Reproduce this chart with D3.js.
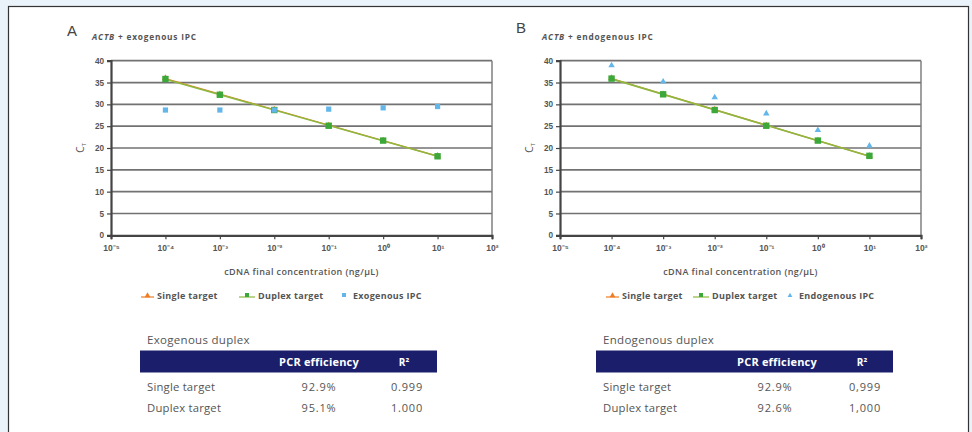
<!DOCTYPE html>
<html><head><meta charset="utf-8">
<script src="https://cdn.jsdelivr.net/npm/d3@7"></script>
<style>
html,body{margin:0;padding:0;background:#eaf3fa;}
svg{display:block;font-family:"Open Sans","Noto Sans",sans-serif;}
</style></head>
<body><svg id="c" width="972" height="432"></svg>
<script>
// ---- data ----
const concentrations = [1e-4, 1e-3, 1e-2, 1e-1, 1, 10];
const xTickValues = [1e-5, 1e-4, 1e-3, 1e-2, 1e-1, 1, 10, 100];
const xTickLabels = ["10⁻⁵", "10⁻⁴", "10⁻³", "10⁻²", "10⁻¹", "10⁰", "10¹", "10²"];
const yTickValues = [0, 5, 10, 15, 20, 25, 30, 35, 40];
const singleTargetCt = [36.0, 32.3, 28.8, 25.1, 21.7, 18.2];
const duplexTargetCtA = [35.8, 32.2, 28.7, 25.1, 21.7, 18.1];
const exogenousIpcCt = [28.7, 28.7, 28.7, 28.9, 29.2, 29.5];
const duplexTargetCtB = [35.9, 32.3, 28.7, 25.1, 21.7, 18.2];
const endogenousIpcCt = [38.9, 35.2, 31.6, 27.9, 24.1, 20.5];
const panelLetters = ["A", "B"];
const panelSubtitles = ["exogenous IPC", "endogenous IPC"];
const legendLabelsA = ["Single target", "Duplex target", "Exogenous IPC"];
const legendLabelsB = ["Single target", "Duplex target", "Endogenous IPC"];
const tableTitles = ["Exogenous duplex", "Endogenous duplex"];
const tableHeaders = ["PCR efficiency", "R²"];
const tableRowNames = ["Single target", "Duplex target"];
const efficiencyA = ["92.9%", "95.1%"];
const r2A = ["0.999", "1.000"];
const efficiencyB = ["92.9%", "92.6%"];
const r2B = ["0,999", "1,000"];

const svg = d3.select("#c");
// frame
svg.append("rect").attr("x", 8.5).attr("y", 6.5).attr("width", 960).attr("height", 440)
  .attr("fill", "#fff").attr("stroke", "#333").attr("stroke-width", 1.2);

const C_ORANGE = "#f07d23", C_GREEN = "#3da83a", C_LINE_GREEN = "#8db840", C_BLUE = "#62b6ea";
const GRID = "#5a5a5a", TXT = "#555";

function fit(xs, ys) {
  const lx = xs.map(Math.log10);
  const mx = d3.mean(lx), my = d3.mean(ys);
  const b = d3.sum(lx, (v, i) => (v - mx) * (ys[i] - my)) / d3.sum(lx, v => (v - mx) ** 2);
  const a = my - b * mx;
  return x => a + b * Math.log10(x);
}

function panel(cfg) {
  const g = svg.append("g");
  const x = d3.scaleLog().domain([1e-5, 100]).range(cfg.xr);
  const y = d3.scaleLinear().domain([0, 40]).range([235.3, 60.7]);

  g.append("text").attr("x", cfg.letterX).attr("y", cfg.letterY).text(cfg.letter)
    .attr("font-size", 15).attr("fill", "#444").attr("font-family", "Liberation Sans, Arial, sans-serif");
  const st = g.append("text").attr("x", cfg.subX).attr("y", 39.5).attr("font-size", 8.3)
    .attr("letter-spacing", 0.8).attr("font-weight", "bold").attr("fill", "#555");
  st.append("tspan").attr("font-style", "italic").text("ACTB");
  st.append("tspan").text(" + " + cfg.subtitle);

  // gridlines
  g.append("g").selectAll("line").data(yTickValues.filter(v => v > 0)).join("line")
    .attr("x1", cfg.xr[0]).attr("x2", cfg.xr[1]).attr("y1", d => y(d)).attr("y2", d => y(d))
    .attr("stroke", GRID).attr("stroke-width", 1.7).attr("opacity", 0.85);
  // right border
  g.append("line").attr("x1", cfg.xr[1]).attr("x2", cfg.xr[1]).attr("y1", y(40)).attr("y2", y(0))
    .attr("stroke", "#777").attr("stroke-width", 1.4);

  const ya = g.append("g").attr("transform", `translate(${cfg.xr[0]},0)`)
    .call(d3.axisLeft(y).tickValues(yTickValues).tickSize(4).tickPadding(3));
  ya.select(".domain").attr("stroke", "#444").attr("stroke-width", 2.2);
  ya.selectAll(".tick line").attr("stroke", "#444").attr("stroke-width", 1.2);
  ya.selectAll("text").attr("font-size", 8.2).attr("font-weight", 600).attr("fill", TXT);

  const xa = g.append("g").attr("transform", `translate(0,${y(0)})`)
    .call(d3.axisBottom(x).tickValues(xTickValues).tickFormat((d, i) => xTickLabels[i]).tickSize(4).tickPadding(6));
  xa.select(".domain").attr("stroke", "#444").attr("stroke-width", 2.2);
  xa.selectAll(".tick line").attr("stroke", "#444").attr("stroke-width", 1.2);
  xa.selectAll("text").attr("font-size", 8.5).attr("font-weight", 600).attr("fill", TXT);

  // axis titles
  const yl = g.append("text").attr("transform", `translate(${cfg.xr[0] - 27},${y(20)}) rotate(-90)`)
    .attr("text-anchor", "middle").attr("font-size", 10).attr("fill", TXT);
  yl.append("tspan").text("C");
  yl.append("tspan").attr("font-size", 6).attr("dy", 2).text("T");
  g.append("text").attr("x", (cfg.xr[0] + cfg.xr[1]) / 2).attr("y", 275).attr("text-anchor", "middle")
    .attr("font-size", 9).attr("font-weight", 600).attr("letter-spacing", 0.4).attr("fill", TXT)
    .text("cDNA final concentration (ng/μL)");

  // trend lines
  const xs = [concentrations[0], concentrations[concentrations.length - 1]];
  const fs = fit(concentrations, singleTargetCt), fd = fit(concentrations, cfg.duplex);
  g.append("path").attr("d", d3.line().x(d => x(d)).y(d => y(fs(d)))(xs))
    .attr("stroke", C_ORANGE).attr("stroke-width", 1.3).attr("fill", "none");
  g.append("path").attr("d", d3.line().x(d => x(d)).y(d => y(fd(d)))(xs))
    .attr("stroke", C_LINE_GREEN).attr("stroke-width", 1.6).attr("fill", "none");

  // markers
  g.append("g").selectAll("path").data(singleTargetCt).join("path")
    .attr("d", d3.symbol(d3.symbolTriangle, 20)())
    .attr("transform", (d, i) => `translate(${x(concentrations[i])},${y(d)})`).attr("fill", C_ORANGE);
  g.append("g").selectAll("rect").data(cfg.duplex).join("rect")
    .attr("x", (d, i) => x(concentrations[i]) - 3.2).attr("y", d => y(d) - 3.2)
    .attr("width", 6.4).attr("height", 6.4).attr("fill", C_GREEN);
  if (cfg.ipcShape === "square") {
    g.append("g").selectAll("rect").data(cfg.ipc).join("rect")
      .attr("x", (d, i) => x(concentrations[i]) - 2.6).attr("y", d => y(d) - 2.6)
      .attr("width", 5.2).attr("height", 5.2).attr("fill", C_BLUE);
  } else {
    g.append("g").selectAll("path").data(cfg.ipc).join("path")
      .attr("d", d3.symbol(d3.symbolTriangle, 18)())
      .attr("transform", (d, i) => `translate(${x(concentrations[i])},${y(d)})`).attr("fill", C_BLUE);
  }

  // legend
  const lg = g.append("g").attr("font-size", 9).attr("font-weight", "bold").attr("letter-spacing", 0.3).attr("fill", TXT);
  const L = cfg.legend;
  // single
  lg.append("line").attr("x1", L[0]).attr("x2", L[0] + 13).attr("y1", 297).attr("y2", 297).attr("stroke", C_ORANGE).attr("stroke-width", 1.2);
  lg.append("path").attr("d", d3.symbol(d3.symbolTriangle, 14)()).attr("transform", `translate(${L[0] + 6.5},295.5)`).attr("fill", C_ORANGE);
  lg.append("text").attr("x", L[0] + 16).attr("y", 298.5).text(cfg.legendLabels[0]);
  // duplex
  lg.append("line").attr("x1", L[1]).attr("x2", L[1] + 16).attr("y1", 297).attr("y2", 297).attr("stroke", C_LINE_GREEN).attr("stroke-width", 1.2);
  lg.append("rect").attr("x", L[1] + 6).attr("y", 293).attr("width", 4).attr("height", 4).attr("fill", C_GREEN);
  lg.append("text").attr("x", L[1] + 19).attr("y", 298.5).text(cfg.legendLabels[1]);
  // ipc
  if (cfg.ipcShape === "square") {
    lg.append("rect").attr("x", L[2]).attr("y", 293).attr("width", 4).attr("height", 4).attr("fill", C_BLUE);
  } else {
    lg.append("path").attr("d", d3.symbol(d3.symbolTriangle, 10)()).attr("transform", `translate(${L[2] + 2},295.5)`).attr("fill", C_BLUE);
  }
  lg.append("text").attr("x", L[2] + 11).attr("y", 298.5).text(cfg.legendLabels[2]);

  // table
  const T = cfg.table;
  g.append("text").attr("x", T.x0 + 7).attr("y", 344).attr("font-size", 11.5).attr("letter-spacing", 0.3).attr("fill", TXT).text(T.title);
  g.append("rect").attr("x", T.x0).attr("y", 350.5).attr("width", T.w).attr("height", 22).attr("fill", "#1b1f6b");
  g.append("text").attr("x", T.cEff).attr("y", 365.5).attr("text-anchor", "middle").attr("font-size", 11)
    .attr("font-weight", "bold").attr("letter-spacing", 0.2).attr("fill", "#fff").text(tableHeaders[0]);
  g.append("text").attr("x", T.cR2).attr("y", 365.5).attr("text-anchor", "middle").attr("font-size", 10)
    .attr("font-weight", "bold").attr("fill", "#fff").text(tableHeaders[1]);
  tableRowNames.forEach((name, i) => {
    const yy = 390.5 + i * 21.7;
    g.append("text").attr("x", T.x0 + 7).attr("y", yy).attr("font-size", 11.3).attr("letter-spacing", 0.2).attr("fill", TXT).text(name);
    g.append("text").attr("x", T.vEff).attr("y", yy).attr("text-anchor", "middle").attr("font-size", 11)
      .attr("letter-spacing", 0.8).attr("fill", TXT).text(T.eff[i]);
    g.append("text").attr("x", T.vR2).attr("y", yy).attr("text-anchor", "middle").attr("font-size", 11)
      .attr("letter-spacing", 0.8).attr("fill", TXT).text(T.r2[i]);
  });
}

panel({
  xr: [111, 492], letter: panelLetters[0], letterX: 67, letterY: 36, subX: 92, subtitle: panelSubtitles[0],
  duplex: duplexTargetCtA, ipc: exogenousIpcCt, ipcShape: "square",
  legend: [141, 239, 342], legendLabels: legendLabelsA,
  table: { x0: 140, w: 297, title: tableTitles[0], cEff: 319, cR2: 404, vEff: 319, vR2: 407, eff: efficiencyA, r2: r2A }
});
panel({
  xr: [560, 921], letter: panelLetters[1], letterX: 516, letterY: 33, subX: 542, subtitle: panelSubtitles[1],
  duplex: duplexTargetCtB, ipc: endogenousIpcCt, ipcShape: "triangle",
  legend: [606, 693, 788], legendLabels: legendLabelsB,
  table: { x0: 596, w: 297, title: tableTitles[1], cEff: 777, cR2: 862, vEff: 775, vR2: 865, eff: efficiencyB, r2: r2B }
});
</script></body></html>
